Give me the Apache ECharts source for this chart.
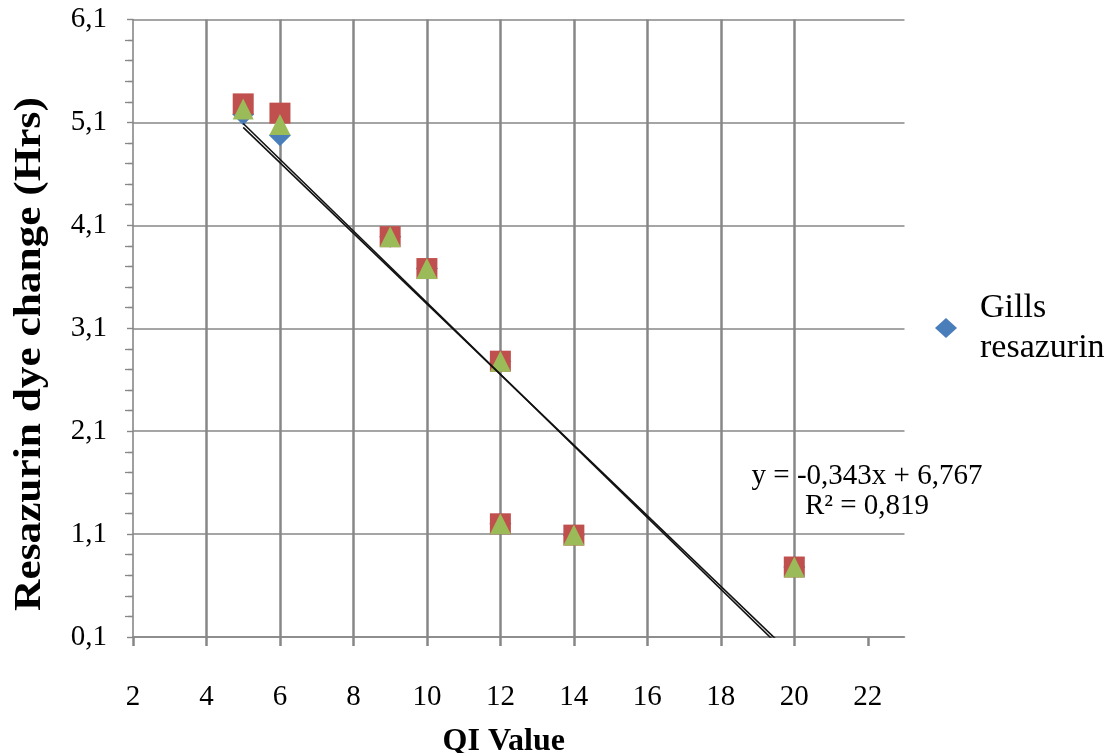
<!DOCTYPE html>
<html>
<head>
<meta charset="utf-8">
<title>Resazurin dye change vs QI value</title>
<script src="https://cdn.jsdelivr.net/npm/echarts@6/dist/echarts.min.js"></script>
<style>
  html, body { margin: 0; padding: 0; background: #ffffff; }
  #chart { width: 1114px; height: 753px; }
</style>
</head>
<body>
<div id="chart"></div>
<script>
// QI values of the samples (x) and hours until the resazurin dye changed (y)
const qiValues = [5, 6, 9, 10, 12, 12, 14, 20];
const gillsResazurin = [5.18, 4.975, 3.99, 3.68, 2.78, 1.20, 1.09, 0.78];
const replicateB = [5.28, 5.19, 3.99, 3.68, 2.78, 1.20, 1.09, 0.78];
const replicateC = [5.23, 5.08, 3.99, 3.68, 2.78, 1.20, 1.09, 0.78];

// Axis ticks
const xTicks = [2, 4, 6, 8, 10, 12, 14, 16, 18, 20, 22];
const yTickLabels = ['0,1', '1,1', '2,1', '3,1', '4,1', '5,1', '6,1'];

// Linear trend lines (slope, intercept) and the fit quality of the first one
const trendSlopes = [-0.343, -0.348];
const trendIntercepts = [6.767, 6.829];
const trendRSquared = [0.819];
const trendRange = [5, 20];

const SERIF = '"Liberation Serif", "Times New Roman", serif';
const GRID = '#878787';

function comma(v, digits) {
  return v.toFixed(digits).replace('.', ',');
}

function pairs(xs, ys) {
  return xs.map((x, i) => [x, ys[i]]);
}

function trendSeries(k) {
  const a = trendSlopes[k], b = trendIntercepts[k];
  return {
    type: 'line',
    name: 'trend' + k,
    data: trendRange.map(x => [x, a * x + b]),
    yAxisIndex: 0,
    showSymbol: false,
    symbol: 'none',
    clip: true,
    silent: true,
    z: 5,
    lineStyle: { color: '#111111', width: 1.6 },
    tooltip: { show: false }
  };
}

const eqText =
  'y = ' + comma(trendSlopes[0], 3) + 'x + ' + comma(trendIntercepts[0], 3) +
  '\nR² = ' + comma(trendRSquared[0], 3);

const grid = {
  left: 133, top: 19.5, right: 209.5, bottom: 116,
  containLabel: false,
  outerBoundsMode: 'none'
};

const option = {
  animation: false,
  backgroundColor: '#ffffff',
  grid: grid,
  xAxis: {
    type: 'value',
    min: 2,
    max: 23,
    interval: 2,
    name: 'QI Value',
    nameLocation: 'middle',
    nameGap: 89,
    nameTextStyle: {
      fontFamily: SERIF, fontWeight: 'bold', fontSize: 32, color: '#000',
      padding: [0, 30, 0, 0]
    },
    axisLine: { show: true, lineStyle: { color: GRID, width: 1.6 } },
    axisTick: { show: true, length: 9, customValues: xTicks, lineStyle: { color: GRID, width: 2.5 } },
    axisLabel: {
      customValues: xTicks,
      margin: 46,
      fontFamily: SERIF, fontSize: 29, color: '#000',
      formatter: v => String(v)
    },
    splitLine: {
      show: true, showMinLine: false, showMaxLine: false,
      lineStyle: { color: GRID, width: 2.5 }
    }
  },
  yAxis: [
    {
      // value axis used by the data
      type: 'value', min: 0.1, max: 6.1, show: false,
      splitLine: { show: false }
    },
    {
      // visible scale: ticks every 1,0 starting at 0,1
      type: 'value', min: 0, max: 6, interval: 1,
      position: 'left',
      axisLine: { show: true, lineStyle: { color: GRID, width: 1.6 } },
      axisTick: { show: true, length: 6, lineStyle: { color: GRID, width: 1.4 } },
      minorTick: { show: true, splitNumber: 5, length: 5, lineStyle: { color: GRID, width: 1.3 } },
      axisLabel: {
        margin: 26,
        fontFamily: SERIF, fontSize: 29, color: '#000',
        formatter: (v, i) => yTickLabels[i]
      },
      splitLine: { show: true, lineStyle: { color: GRID, width: 1.5 } }
    },
    {
      // inner halves of the minor tick crosses
      type: 'value', min: 0, max: 6, interval: 1,
      position: 'left',
      axisLine: { show: false },
      axisTick: { show: false },
      axisLabel: { show: false },
      minorTick: { show: true, splitNumber: 5, length: 8, lineStyle: { color: GRID, width: 1.3 } },
      splitLine: { show: false }
    }
  ],
  legend: {
    show: true,
    data: ['Gills resazurin'],
    left: 930,
    top: 263,
    orient: 'vertical',
    icon: 'diamond',
    itemWidth: 22,
    itemHeight: 20,
    formatter: () => 'Gills\nresazurin',
    textStyle: {
      fontFamily: SERIF, fontSize: 34, color: '#000',
      lineHeight: 40, padding: [40, 0, 0, 18]
    }
  },
  series: [
    {
      type: 'scatter', name: 'Gills resazurin',
      data: pairs(qiValues, gillsResazurin),
      yAxisIndex: 0,
      symbol: 'diamond', symbolSize: 22,
      itemStyle: { color: '#4a7ebb', opacity: 1 }, z: 2
    },
    {
      type: 'scatter', name: 'Replicate B',
      data: pairs(qiValues, replicateB),
      yAxisIndex: 0,
      symbol: 'rect', symbolSize: 21,
      itemStyle: { color: '#c0504d', opacity: 1 }, z: 3
    },
    {
      type: 'scatter', name: 'Replicate C',
      data: pairs(qiValues, replicateC),
      yAxisIndex: 0,
      symbol: 'triangle', symbolSize: 21,
      itemStyle: { color: '#9bbb59', opacity: 1 }, z: 4
    },
    trendSeries(0),
    trendSeries(1)
  ],
  graphic: [
    {
      // vertical axis title
      type: 'text',
      x: 30,
      y: 354,
      rotation: Math.PI / 2,
      scaleX: 1.14,
      style: {
        text: 'Resazurin dye change (Hrs)',
        font: 'bold 38px ' + SERIF,
        fill: '#000',
        align: 'center',
        verticalAlign: 'middle'
      }
    },
    {
      // trend line equation
      type: 'text',
      x: 867,
      y: 461,
      z: 10,
      style: {
        text: eqText,
        font: '29px ' + SERIF,
        fill: '#000',
        align: 'center',
        verticalAlign: 'top',
        lineHeight: 30
      }
    }
  ]
};

const chart = echarts.init(document.getElementById('chart'), null, { renderer: 'canvas' });
chart.setOption(option);
</script>
</body>
</html>
